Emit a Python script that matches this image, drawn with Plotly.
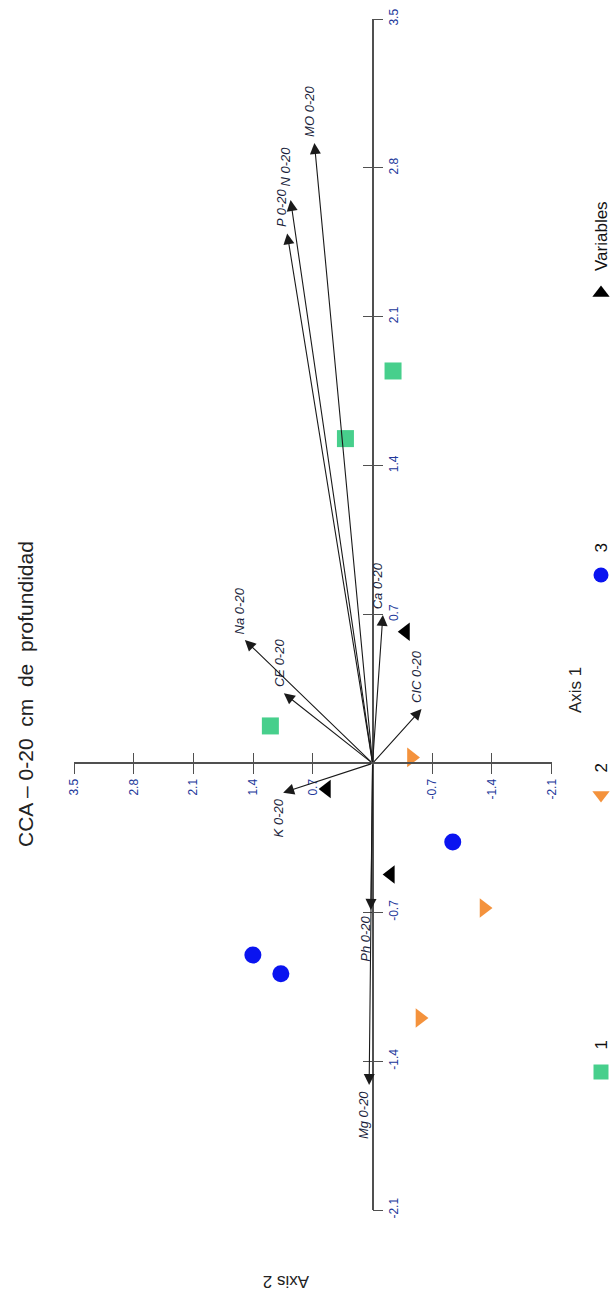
import plotly.graph_objects as go

# ---------------- data ----------------
# axis tick values (shared by both axes)
tick_vals = [3.5, 2.8, 2.1, 1.4, 0.7, -0.7, -1.4, -2.1]
tick_text = ["3.5", "2.8", "2.1", "1.4", "0.7", "-0.7", "-1.4", "-2.1"]

# site scores: Axis 2 (horizontal, decreasing to the right) and Axis 1 (vertical)
g1_ax2 = [-0.24, 0.318, 1.198]
g1_ax1 = [1.845, 1.527, 0.176]

g2_ax2 = [-0.456, -1.306, -0.555]
g2_ax1 = [0.028, -0.68, -1.197]

g3_ax2 = [1.403, 1.075, -0.94]
g3_ax1 = [-0.901, -0.989, -0.37]

g4_ax2 = [-0.389, 0.538, -0.212]
g4_ax1 = [0.619, -0.12, -0.522]

# environmental variable vectors
var_names = ["MO 0-20", "P 0-20", "N 0-20", "Ca 0-20", "CE 0-20",
             "Na 0-20", "CIC 0-20", "K 0-20", "Ph 0-20", "Mg 0-20"]
var_ax2 = [0.682, 1.001, 0.961, -0.121, 1.04, 1.497, -0.574, 1.048, 0.02, 0.04]
var_ax1 = [2.917, 2.492, 2.649, 0.698, 0.33, 0.58, 0.256, -0.138, -0.689, -1.512]

legend_names = ["1", "2", "3", "Variables"]

# ---------------- layout geometry ----------------
W, H = 611, 1296
# plot area edges in pixels (the axis ends)
PX_L, PX_R, PX_T, PX_B = 74, 551.7, 19, 1210
x_dom = [PX_L / W, PX_R / W]
y_dom = [1 - PX_B / H, 1 - PX_T / H]
x_range = [3.5, -2.1]
y_range = [-2.1, 3.5]


def px_x(px):
    return px / W


def px_y(py):
    return 1 - py / H


# paper positions of the zero lines where the axes cross
x_axis_pos = y_dom[0] + (0 - y_range[0]) / (y_range[1] - y_range[0]) * (y_dom[1] - y_dom[0])
y_axis_pos = x_dom[0] + (x_range[0] - 0) / (x_range[0] - x_range[1]) * (x_dom[1] - x_dom[0])

GREEN = "#47CF8C"
ORANGE = "#F4923C"
BLUE = "#0A14F0"
BLACK = "#000000"
AXIS_COL = "#505050"
TICK_COL = "#22379A"
FONT = "Arial, Liberation Sans, sans-serif"

fig = go.Figure()

groups = [
    (g1_ax2, g1_ax1, "square", GREEN, 17),
    (g2_ax2, g2_ax1, "triangle-right", ORANGE, 17),
    (g3_ax2, g3_ax1, "circle", BLUE, 17),
    (g4_ax2, g4_ax1, "triangle-left", BLACK, 16),
]
for gx, gy, sym, col, sz in groups:
    fig.add_trace(go.Scatter(
        x=gx, y=gy, mode="markers",
        marker=dict(symbol=sym, color=col, size=sz, line=dict(width=0)),
        showlegend=False, hoverinfo="skip",
    ))

# overlay axes that draw the inner half of the crossing tick marks
fig.add_trace(go.Scatter(x=[None], y=[None], xaxis="x2", yaxis="y2",
                         showlegend=False, hoverinfo="skip"))

# legend keys, on a full-page helper axis measured in pixels
legend_key_px = [1072, 795, 575, 293]
legend_syms = [("square", GREEN, 15), ("triangle-down", ORANGE, 15),
               ("circle", BLUE, 15), ("triangle-up", BLACK, 15)]
for (sym, col, sz), ky in zip(legend_syms, legend_key_px):
    fig.add_trace(go.Scatter(
        x=[601], y=[ky], xaxis="x3", yaxis="y3", mode="markers",
        marker=dict(symbol=sym, color=col, size=sz, line=dict(width=0)),
        cliponaxis=False, showlegend=False, hoverinfo="skip",
    ))

# extra spacing for labels that would otherwise collide
label_extra = {"N 0-20": 7}

annotations = []
# variable arrows
for name, vx, vy in zip(var_names, var_ax2, var_ax1):
    annotations.append(dict(
        x=vx, y=vy, ax=0, ay=0, xref="x", yref="y", axref="x", ayref="y",
        text="", showarrow=True, arrowhead=2, arrowsize=2.0, arrowwidth=1.1,
        arrowcolor="#1a1a1a",
    ))
    up = vy > 0
    gap = 4 + label_extra.get(name, 0)
    annotations.append(dict(
        x=vx, y=vy, xref="x", yref="y", text=f"<i>{name}</i>",
        showarrow=False, textangle=-90, xanchor="center",
        yanchor="bottom" if up else "top", xshift=-5, yshift=gap if up else -gap,
        font=dict(family=FONT, size=13, color="#1c1f3c"),
    ))

# legend labels
for name, ky in zip(legend_names, legend_key_px):
    annotations.append(dict(
        x=px_x(601), y=px_y(ky - 20), xref="paper", yref="paper",
        text=name, showarrow=False, textangle=-90,
        xanchor="center", yanchor="bottom",
        font=dict(family=FONT, size=17, color="#111111"),
    ))

# title and axis titles
annotations.append(dict(
    x=px_x(25), y=px_y(694), xref="paper", yref="paper",
    text="CCA – 0-20&nbsp; cm&nbsp; de&nbsp; profundidad", showarrow=False,
    textangle=-90, xanchor="center", yanchor="middle",
    font=dict(family=FONT, size=21, color="#222222"),
))
annotations.append(dict(
    x=px_x(575), y=px_y(690), xref="paper", yref="paper",
    text="Axis 1", showarrow=False, textangle=-90,
    xanchor="center", yanchor="middle",
    font=dict(family=FONT, size=17, color="#222222"),
))
annotations.append(dict(
    x=px_x(286), y=px_y(1282), xref="paper", yref="paper",
    text="Axis 2", showarrow=False, textangle=180,
    xanchor="center", yanchor="middle",
    font=dict(family=FONT, size=17, color="#222222"),
))

common_x = dict(range=x_range, tickvals=tick_vals, showgrid=False,
                zeroline=False, anchor="free", position=x_axis_pos,
                domain=x_dom, automargin=False,
                ticklen=10, tickwidth=1.3, tickcolor=AXIS_COL)
common_y = dict(range=y_range, tickvals=tick_vals, showgrid=False,
                zeroline=False, anchor="free", position=y_axis_pos,
                domain=y_dom, automargin=False,
                ticklen=10, tickwidth=1.3, tickcolor=AXIS_COL, side="right")

fig.update_layout(
    template="none",
    width=W, height=H,
    margin=dict(l=0, r=0, t=0, b=0, pad=0),
    paper_bgcolor="white", plot_bgcolor="rgba(0,0,0,0)",
    showlegend=False,
    xaxis=dict(**common_x, ticktext=tick_text, ticks="outside",
               showline=True, linecolor=AXIS_COL, linewidth=1.5,
               tickangle=-90,
               tickfont=dict(family=FONT, size=12, color=TICK_COL)),
    yaxis=dict(**common_y, ticktext=tick_text, ticks="outside",
               showline=True, linecolor=AXIS_COL, linewidth=1.5,
               tickangle=-90,
               tickfont=dict(family=FONT, size=12, color=TICK_COL)),
    xaxis2=dict(**common_x, overlaying="x", ticks="inside",
                showticklabels=False, showline=False),
    yaxis2=dict(**common_y, overlaying="y", ticks="inside",
                showticklabels=False, showline=False),
    xaxis3=dict(domain=[0, 1], range=[0, W], anchor="y3", visible=False,
                automargin=False),
    yaxis3=dict(domain=[0, 1], range=[H, 0], anchor="x3", visible=False,
                automargin=False),
    annotations=annotations,
)

fig.write_html("out.html")
